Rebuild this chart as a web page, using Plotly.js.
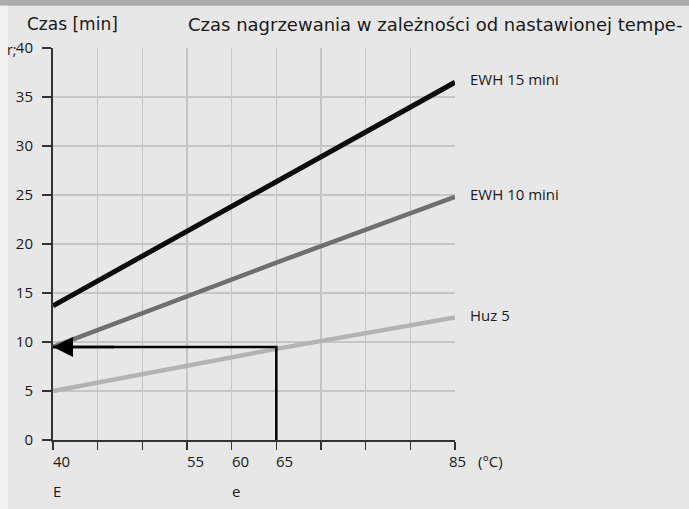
<!DOCTYPE html>
<html>
<head>
<meta charset="utf-8">
<script src="https://cdn.plot.ly/plotly-3.0.1.min.js"></script>
<style>html,body{margin:0;padding:0;background:#e7e7e7;}#chart{width:689px;height:509px;}</style>
</head>
<body>
<div id="chart"></div>
<script>
// Data
const seriesNames = ["EWH 15 mini", "EWH 10 mini", "Huz 5"];
const tempX = [40, 65, 85];
const ewh15 = [13.7, 26.4, 36.5];
const ewh10 = [9.5, 18.1, 24.8];
const huz5 = [5.0, 9.3, 12.5];
const arrowX = [65, 65, 40];
const arrowY = [0, 9.5, 9.5];
const xGridVals = [40, 45, 50, 55, 60, 65, 70, 75, 80, 85];
const xTickLabels = ["40", "55", "60", "65", "85"];
const xTickLabelVals = [40, 55, 60, 65, 85];
const xSubLabels = ["E", "e"];
const xSubLabelVals = [40, 60];
const yTickVals = [0, 5, 10, 15, 20, 25, 30, 35, 40];
const titleText = "Czas nagrzewania w zależności od nastawionej tempe-";
const yTitleText = "Czas [min]";
const unitText = "(°C)";

const colors = ["#0d0d0d", "#6f6f6f", "#b3b3b3"];
const widths = [5, 4.5, 4.5];
const seriesY = [ewh15, ewh10, huz5];
const font = "Open Sans, Liberation Sans, sans-serif";
const tfont = "DejaVu Sans, sans-serif";

const traces = seriesY.map((ys, i) => ({
  x: tempX, y: ys, type: "scatter", mode: "lines",
  line: {color: colors[i], width: widths[i]}, name: seriesNames[i], hoverinfo: "skip"
}));
traces.push({x: arrowX, y: arrowY, type: "scatter", mode: "lines",
  line: {color: "#000", width: 2.5}, hoverinfo: "skip"});

const annotations = [];
seriesY.forEach((ys, i) => {
  annotations.push({x: tempX[tempX.length-1], y: ys[ys.length-1], xref: "x", yref: "y",
    text: seriesNames[i], showarrow: false, xanchor: "left", yanchor: "middle",
    xshift: 13, yshift: 3, font: {family: font, size: 15, color: "#1a1a1a"}});
});
xTickLabels.forEach((t, i) => {
  const last = i === xTickLabels.length - 1;
  annotations.push({x: xTickLabelVals[i], y: 0, xref: "x", yref: "y", text: t, showarrow: false,
    xanchor: last ? "center" : "left", yanchor: "top", xshift: last ? 2 : -2, yshift: -9,
    font: {family: font, size: 15, color: "#1a1a1a"}});
});
xSubLabels.forEach((t, i) => {
  annotations.push({x: xSubLabelVals[i], y: 0, xref: "x", yref: "y", text: t, showarrow: false,
    xanchor: "left", yanchor: "top", xshift: -2, yshift: -39,
    font: {family: font, size: 15, color: "#1a1a1a"}});
});
annotations.push({x: 85, y: 0, xref: "x", yref: "y", text: unitText, showarrow: false,
  xanchor: "left", yanchor: "top", xshift: 21, yshift: -9, font: {family: font, size: 15, color: "#1a1a1a"}});
// arrow head
annotations.push({x: arrowX[2], y: arrowY[2], xref: "x", yref: "y", ax: 47, ay: arrowY[2], axref: "x", ayref: "y",
  text: "", showarrow: true, arrowhead: 2, arrowsize: 1.6, arrowwidth: 2.5, arrowcolor: "#000", standoff: 0});
// header texts
annotations.push({x: -0.07, y: 1.06, xref: "paper", yref: "paper", text: yTitleText, showarrow: false,
  xanchor: "left", yanchor: "middle", font: {family: tfont, size: 17, color: "#1a1a1a"}});
annotations.push({x: 0.332, y: 1.06, xref: "paper", yref: "paper", text: titleText, showarrow: false,
  xanchor: "left", yanchor: "middle", font: {family: tfont, size: 18, color: "#1a1a1a"}});
annotations.push({x: -0.119, y: 0.997, xref: "paper", yref: "paper", text: "r;", showarrow: false,
  xanchor: "left", yanchor: "middle", font: {family: font, size: 14, color: "#1a1a1a"}});

const layout = {
  width: 689, height: 509,
  margin: {l: 53, r: 234, t: 48, b: 69},
  paper_bgcolor: "#e7e7e7", plot_bgcolor: "#e7e7e7",
  showlegend: false,
  xaxis: {range: [40, 85], tickvals: xGridVals, ticktext: xGridVals.map(() => ""),
    showgrid: true, gridcolor: "#c6c6c6", gridwidth: 1.2, zeroline: false,
    showline: true, linecolor: "#333", linewidth: 2, ticks: "outside", ticklen: 8, tickwidth: 1.5, tickcolor: "#333",
    fixedrange: true},
  yaxis: {range: [0, 40], tickvals: yTickVals, showgrid: true, gridcolor: "#c6c6c6", gridwidth: 1.2, zeroline: false,
    showline: true, linecolor: "#333", linewidth: 2, ticks: "outside", ticklen: 9, tickwidth: 1.5, tickcolor: "#333",
    tickfont: {family: font, size: 15, color: "#1a1a1a"}, ticklabelstandoff: 6, fixedrange: true},
  shapes: [
    {type: "rect", xref: "paper", yref: "paper", x0: -0.14, x1: 1.6, y0: 1.108, y1: 1.14, fillcolor: "#acacac", line: {width: 0}, layer: "below"},
    {type: "rect", xref: "paper", yref: "paper", x0: -0.14, x1: -0.112, y0: -0.2, y1: 1.108, fillcolor: "#f2f2f2", line: {width: 0}, layer: "below"}
  ],
  annotations: annotations
};
Plotly.newPlot("chart", traces, layout, {staticPlot: true, displayModeBar: false});
</script>
</body>
</html>
